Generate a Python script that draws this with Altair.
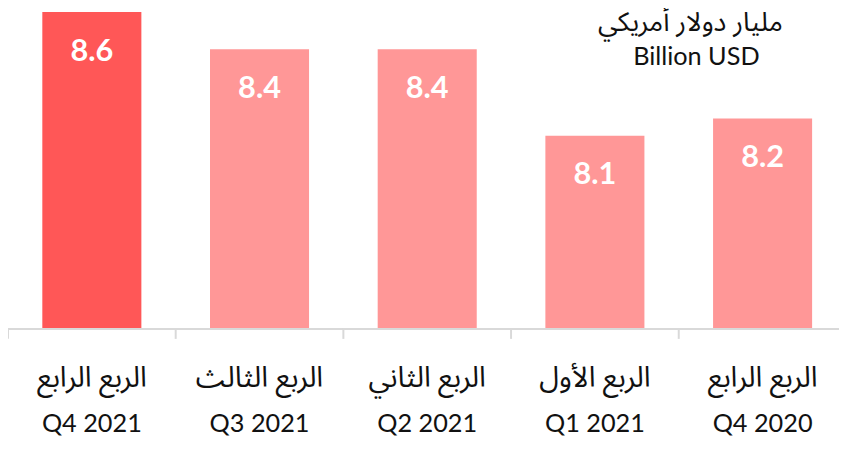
import altair as alt
import pandas as pd

arabic_quarters = ["الربع الرابع", "الربع الثالث", "الربع الثاني", "الربع الأول", "الربع الرابع"]
english_quarters = ["Q4 2021", "Q3 2021", "Q2 2021", "Q1 2021", "Q4 2020"]
values = [8.58, 8.43, 8.43, 8.08, 8.15]
highlight = ["yes", "no", "no", "no", "no"]
y_min = 7.304
y_max = 8.588

unit_ar = "مليار دولار أمريكي"
unit_en = "Billion USD"

FONT = "Lato, 'Noto Sans Arabic', 'DejaVu Sans', sans-serif"
W = 839          # visible plot width (window is clipped on the right)
STEP = 169.3     # category step, the last band runs past the window edge
H = 321
AXIS_COLOR = "#d9d9d9"

df = pd.DataFrame({
    "key": [a + "|" + e for a, e in zip(arabic_quarters, english_quarters)],
    "ar": arabic_quarters,
    "en": english_quarters,
    "value": values,
    "base": [y_min] * len(values),
    "hl": highlight,
})

x = alt.X(
    "key:N",
    sort=None,
    title=None,
    scale=alt.Scale(range=[0, STEP * 5], paddingInner=0, paddingOuter=0),
    axis=None,
)
yscale = alt.Scale(domain=[y_min, y_max], zero=False, nice=False)
y = alt.Y("value:Q", scale=yscale, axis=None)
yb = alt.Y("base:Q", scale=yscale, axis=None)

bars = alt.Chart(df).mark_bar(width=alt.RelativeBandSize(100 / STEP)).encode(
    x=x,
    y=y,
    y2="base:Q",
    color=alt.Color("hl:N", scale=alt.Scale(domain=["yes", "no"], range=["#FF5757", "#FF9797"]), legend=None),
)

baseline = alt.Chart(df.head(1)).mark_rule(color=AXIS_COLOR, strokeWidth=2, yOffset=1).encode(
    x=alt.value(0),
    x2=alt.value(W),
    y=yb,
)

ticks = alt.Chart(df).mark_rule(color=AXIS_COLOR, strokeWidth=2, xOffset=-STEP / 2, y2Offset=11).encode(
    x=x,
    y=yb,
    y2="base:Q",
)

labels = alt.Chart(df).mark_text(
    baseline="middle", dy=40, color="white", fontWeight="bold", fontSize=31, font=FONT
).encode(
    x=x,
    y=y,
    text=alt.Text("value:Q", format=".1f"),
)

ar_labels = alt.Chart(df).mark_text(
    baseline="middle", dy=51, color="#111111", fontSize=29, font=FONT
).encode(x=x, y=yb, text="ar:N")

en_labels = alt.Chart(df).mark_text(
    baseline="middle", dy=97, color="#111111", fontSize=25.5, font=FONT
).encode(x=x, y=yb, text="en:N")

unit_ar_text = alt.Chart(pd.DataFrame({"t": [unit_ar]})).mark_text(
    fontSize=27, font=FONT, color="#111111", align="center", baseline="middle"
).encode(text="t:N", x=alt.value(689), y=alt.value(13))
unit_en_text = alt.Chart(pd.DataFrame({"t": [unit_en]})).mark_text(
    fontSize=25.5, font=FONT, color="#111111", align="center", baseline="middle"
).encode(text="t:N", x=alt.value(695), y=alt.value(47))

chart = alt.layer(
    bars, baseline, ticks, labels, ar_labels, en_labels, unit_ar_text, unit_en_text
).properties(
    width=W,
    height=H,
    autosize=alt.AutoSizeParams(type="none"),
    padding={"left": 0, "top": 0, "right": 0, "bottom": 107},
).configure_view(stroke=None)

chart.save("out.html", embed_options={"renderer": "svg", "actions": False})
